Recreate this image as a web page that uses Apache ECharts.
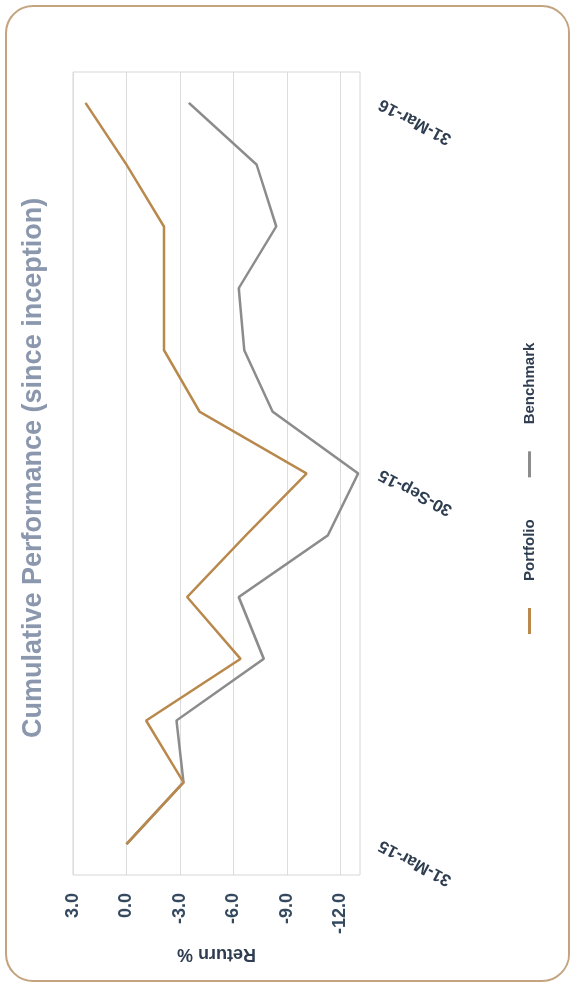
<!DOCTYPE html>
<html><head><meta charset="utf-8">
<script src="https://cdn.jsdelivr.net/npm/echarts@6/dist/echarts.min.js"></script>
<style>
html,body{margin:0;padding:0;width:572px;height:984px;overflow:hidden;background:#fff;}
#chart{position:absolute;left:-206px;top:206px;width:984px;height:572px;transform:rotate(-90deg);transform-origin:50% 50%;}
</style></head><body><div id="chart"></div>
<script>
const categories = ['31-Mar-15','30-Apr-15','31-May-15','30-Jun-15','31-Jul-15','31-Aug-15','30-Sep-15','31-Oct-15','30-Nov-15','31-Dec-15','31-Jan-16','29-Feb-16','31-Mar-16'];
const portfolio = [0.0, -3.2, -1.1, -6.4, -3.4, -6.7, -10.1, -4.1, -2.1, -2.1, -2.1, 0.0, 2.3];
const benchmark = [0.0, -3.2, -2.8, -7.7, -6.3, -11.3, -13.0, -8.2, -6.6, -6.3, -8.4, -7.3, -3.5];
const valueTicks = [3, 0, -3, -6, -9, -12];
const seriesNames = ['Portfolio', 'Benchmark'];

const chart = echarts.init(document.getElementById('chart'), null, {renderer: 'canvas'});
const FONT = 'Liberation Sans';
chart.setOption({
  backgroundColor: '#ffffff',
  animation: false,
  title: {
    text: 'Cumulative Performance (since inception)',
    left: 241, top: 15,
    textStyle: {fontFamily: FONT, fontWeight: 'bold', fontSize: 27, color: '#8a97ad'}
  },
  legend: {
    data: seriesNames,
    left: 345, top: 517,
    icon: 'rect', itemWidth: 26, itemHeight: 3, itemGap: 42,
    textStyle: {fontFamily: FONT, fontWeight: 'bold', fontSize: 15, color: '#2e3d4f', padding: [0, 0, 0, 22]}
  },
  grid: {left: 109, right: 72, top: 73, bottom: 212, show: true, borderColor: '#d6d6d6', borderWidth: 1, containLabel: false},
  xAxis: {
    type: 'category', data: categories, boundaryGap: true,
    axisLine: {show: false}, axisTick: {show: false},
    axisLabel: {interval: 5, rotate: 62, margin: 20, fontFamily: FONT, fontWeight: 'bold', fontSize: 17, color: '#2e3d4f'}
  },
  yAxis: {
    type: 'value', max: 3, min: -13.1,
    name: 'Return %', nameLocation: 'middle', nameRotate: 90, nameGap: 70,
    nameTextStyle: {fontFamily: FONT, fontWeight: 'bold', fontSize: 18, color: '#2e3d4f'},
    axisLine: {show: false},
    axisTick: {show: false, customValues: valueTicks},
    axisLabel: {customValues: valueTicks, margin: 18, fontFamily: FONT, fontWeight: 'bold', fontSize: 18, color: '#34495e',
      formatter: v => Number(v).toFixed(1)},
    splitLine: {show: true, lineStyle: {color: '#dcdcdc', width: 1}}
  },
  graphic: [{
    type: 'rect', silent: true,
    shape: {x: 3, y: 6, width: 975, height: 563, r: 27},
    style: {fill: 'none', stroke: '#c3a47e', lineWidth: 2}
  }],
  series: [
    {name: seriesNames[0], type: 'line', data: portfolio, z: 4, showSymbol: false, symbol: 'none',
      lineStyle: {color: '#b8884c', width: 2.5}, itemStyle: {color: '#b8884c'}},
    {name: seriesNames[1], type: 'line', data: benchmark, z: 3, showSymbol: false, symbol: 'none',
      lineStyle: {color: '#8c8c8c', width: 2.5}, itemStyle: {color: '#8c8c8c'}}
  ]
});
</script></body></html>
